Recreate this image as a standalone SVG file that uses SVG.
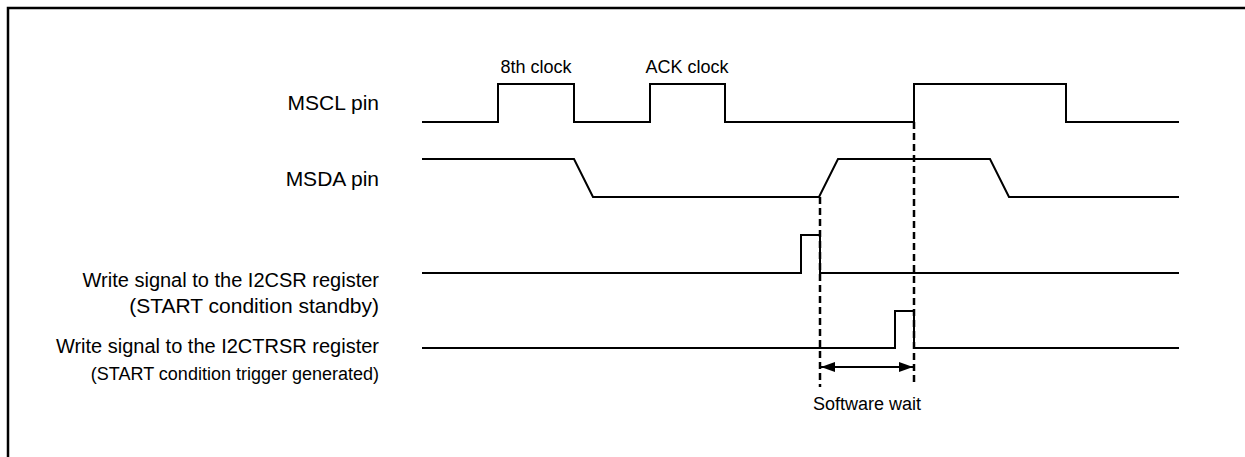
<svg xmlns="http://www.w3.org/2000/svg" width="1245" height="457" viewBox="0 0 1245 457">
<style>
.lbl{font-family:"Liberation Sans",Arial,sans-serif;font-size:20px;fill:#000}
.md{font-size:21px}
.sm{font-size:18px}
.sig{fill:none;stroke:#000;stroke-width:2}
.dash{fill:none;stroke:#000;stroke-width:2.5;stroke-dasharray:7,4}
</style>
<defs>
<marker id="ah" viewBox="0 0 14 10" refX="14" refY="5" markerWidth="14" markerHeight="10" markerUnits="userSpaceOnUse" orient="auto-start-reverse">
<path d="M0,0 L14,5 L0,10 Z" fill="#000"/>
</marker>
</defs>
<rect width="1245" height="457" fill="#fff"/>
<path d="M8,457 V8 H1245" fill="none" stroke="#000" stroke-width="2.5"/>
<g id="mscl">
<text class="lbl md" x="379" y="110" text-anchor="end">MSCL pin</text>
<text class="lbl sm" x="536" y="73" text-anchor="middle">8th clock</text>
<text class="lbl sm" x="687" y="73" text-anchor="middle">ACK clock</text>
<path class="sig" d="M422,122 H498 V84 H574 V122 H650 V84 H725 V122 H914 V84 H1066 V122 H1179"/>
</g>
<g id="msda">
<text class="lbl md" x="379" y="186" text-anchor="end">MSDA pin</text>
<path class="sig" d="M422,159 H574 L593,197 H819 L838,159 H990 L1009,197 H1179"/>
</g>
<g id="i2csr">
<text class="lbl" x="379" y="287" text-anchor="end">Write signal to the I2CSR register</text>
<text class="lbl md" x="379" y="313" text-anchor="end">(START condition standby)</text>
<path class="sig" d="M422,273 H801 V235 H820 V273 H1179"/>
</g>
<g id="i2ctrsr">
<text class="lbl" x="379" y="353" text-anchor="end">Write signal to the I2CTRSR register</text>
<text class="lbl sm" x="379" y="380" text-anchor="end">(START condition trigger generated)</text>
<path class="sig" d="M422,348 H895 V311 H914 V348 H1179"/>
</g>
<g id="connectors">
<line class="dash" x1="820" y1="197" x2="820" y2="387"/>
<line class="dash" x1="914" y1="122" x2="914" y2="382"/>
<line x1="821" y1="367" x2="913" y2="367" stroke="#000" stroke-width="2" marker-start="url(#ah)" marker-end="url(#ah)"/>
</g>
<g id="software-wait">
<text class="lbl sm" x="867" y="410" text-anchor="middle">Software wait</text>
</g>
</svg>
